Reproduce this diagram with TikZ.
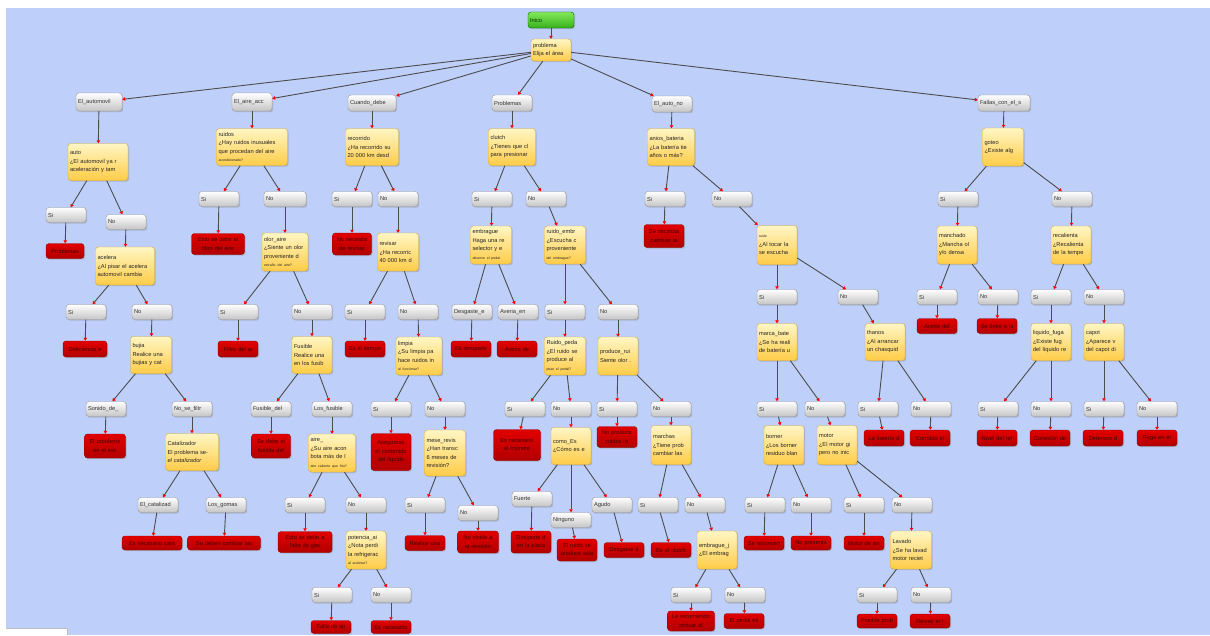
\documentclass[tikz,border=0pt]{standalone}
\usepackage{fontspec}
\setmainfont{Liberation Sans}
\usepackage{tikz}
\usetikzlibrary{arrows.meta, shadows}
\hyphenpenalty=10000
\exhyphenpenalty=10000
\definecolor{mapBg}{RGB}{190,208,250}
\definecolor{optBot}{RGB}{196,196,196}
\definecolor{optLine}{RGB}{150,150,150}
\definecolor{askTop}{RGB}{255,246,196}
\definecolor{askBot}{RGB}{255,204,72}
\definecolor{askLine}{RGB}{214,168,60}
\definecolor{endTop}{RGB}{226,0,0}
\definecolor{endBot}{RGB}{178,0,0}
\definecolor{endLine}{RGB}{140,0,0}
\definecolor{endText}{RGB}{70,0,0}
\definecolor{goTop}{RGB}{130,232,90}
\definecolor{goBot}{RGB}{56,176,28}
\tikzstyle{baseNode} = [rectangle, rounded corners=3pt, inner xsep=2pt, inner ysep=1pt, align=left, font=\fontsize{5.7}{8.5}\selectfont, drop shadow={opacity=0.35, shadow xshift=1.2pt, shadow yshift=-1.2pt}]
\tikzstyle{optNode} = [baseNode, top color=white, bottom color=optBot, draw=optLine, text width=36pt, minimum height=15pt, text=black!80]
\tikzstyle{askNode} = [baseNode, top color=askTop, bottom color=askBot, draw=askLine, text width=36pt, minimum height=37pt, text=black!85]
\tikzstyle{endNode} = [baseNode, top color=endTop, bottom color=endBot, draw=endLine, text width=36pt, minimum height=15pt, align=center, text=endText]
\tikzstyle{startNode} = [baseNode, top color=goTop, bottom color=goBot, draw=green!40!black, text width=42pt, minimum height=16pt, text=green!20!black]
\tikzstyle{arrow} = [draw=black!70, line width=0.9pt, -{Triangle[red, length=3pt, width=3.5pt]}]
\newcommand{\fine}[1]{{\fontsize{3.5}{4}\selectfont #1}}

\begin{document}
\begin{tikzpicture}[x=1pt, y=-1pt]
\useasboundingbox (0,0) rectangle (1210,635);
\fill [white] (0,0) rectangle (1210,635);
\fill [mapBg] (6,8) rectangle (1210,635);
\fill [white] (0,628) rectangle (67,635);
\draw [black!25] (6,628) -- (67,628) -- (67,635);

% raiz
\node (s) [startNode] at (551,20) {Inico};
\node (p) [askNode, minimum height=22pt] at (551,50) {problema\\Elija el área};

% primer nivel
\node (a) [optNode, text width=42pt, minimum height=18pt] at (99,102) {El\_automovil};
\node (b) [optNode, minimum height=18pt] at (252,102) {El\_aire\_acc};
\node (c) [optNode, text width=44pt, minimum height=16pt] at (372,103) {Cuando\_debe};
\node (d) [optNode, minimum height=16pt] at (512,103) {Problemas};
\node (e) [optNode, minimum height=16pt] at (672,104) {El\_auto\_no};
\node (f) [optNode, text width=48pt, minimum height=16pt] at (1004,103) {Fallas\_con\_el\_s};

% El_automovil
\node (a1) [askNode, text width=56pt] at (98,162) {auto\\¿El automovil ya r\\aceleración y tam};
\node (a1s) [optNode] at (66,215) {Si};
\node (a1n) [optNode] at (126,222) {No};
\node (a1sr) [endNode, text width=34pt] at (65,251) {Problemas};
\node (a2) [askNode, text width=55pt, minimum height=38pt] at (125,266) {acelera\\¿Al pisar el acelera\\automovil cambia};
\node (a2s) [optNode] at (86,312) {Si};
\node (a2n) [optNode] at (152,312) {No};
\node (a2sr) [endNode, text width=40pt, minimum height=16pt] at (85,349) {Deficiencia e};
\node (a3) [askNode, text width=37pt] at (151,355) {bujia\\Realice una\\bujias y cat};
\node (a3s) [optNode] at (106,409) {Sonido\_de\_};
\node (a3n) [optNode] at (192,409) {No\_se\_filtr};
\node (a3sr) [endNode, text width=37pt, minimum height=24pt] at (105,446) {El problema\\en el esc};
\node (a4) [askNode, text width=49pt] at (192,452) {Catalizador\\El problema se-\\\textit{el catalizador}};
\node (a4s) [optNode] at (158,505) {El\_catalizad};
\node (a4n) [optNode] at (226,505) {Los\_gomas};
\node (a4sr) [endNode, text width=56pt, minimum height=14pt] at (152,543) {Es necesario cam};
\node (a4nr) [endNode, text width=69pt, minimum height=14pt] at (224,543) {Se deben cambiar las};

% El_aire_acc
\node (b1) [askNode, text width=67pt] at (252,147) {ruidos\\¿Hay ruidos inusuales\\que procedan del aire\\\fine{acondicionado?}};
\node (b1s) [optNode] at (219,199) {Si};
\node (b1n) [optNode, text width=38pt] at (285,199) {No};
\node (b1sr) [endNode, text width=49pt, minimum height=21pt] at (218,244) {Esto se debe al\\filtro del aire};
\node (b2) [askNode, text width=42pt, minimum height=38pt] at (285,252) {olor\_aire\\¿Siente un olor\\proveniente d\\\fine{extraño del aire?}};
\node (b2s) [optNode] at (238,312) {Si};
\node (b2n) [optNode] at (312,312) {No};
\node (b2sr) [endNode, minimum height=16pt] at (238,349) {Filtro del ai};
\node (b3) [askNode] at (312,355) {Fusible\\Realice una\\en los fusib};
\node (b3s) [optNode] at (271,409) {Fusible\_del};
\node (b3n) [optNode] at (332,409) {Los\_fusible};
\node (b3sr) [endNode, text width=35pt, minimum height=24pt] at (271,446) {Se debe el\\fusible del};
\node (b4) [askNode, text width=43pt, minimum height=38pt] at (332,453) {aire\_\\¿Su aire acon\\bota más de l\\\fine{aire caliente que frío?}};
\node (b4s) [optNode] at (305,505) {Si};
\node (b4n) [optNode] at (366,505) {No};
\node (b4sr) [endNode, text width=50pt, minimum height=21pt] at (305,542) {Esto se debe a\\falta de gas};
\node (b5) [askNode, minimum height=38pt] at (366,550) {potencia\_ai\\¿Nota perdi\\la refrigerac\\\fine{al acelerar?}};
\node (b5s) [optNode] at (332,595) {Si};
\node (b5n) [optNode] at (391,595) {No};
\node (b5sr) [endNode, minimum height=13pt] at (331,627) {Falla de ap};
\node (b5nr) [endNode, minimum height=13pt] at (391,627) {Es necesario};

% Cuando_debe
\node (c1) [askNode, text width=49pt] at (372,147) {recorrido\\¿Ha recorrido su\\20 000 km desd};
\node (c1s) [optNode] at (352,199) {Si};
\node (c1n) [optNode] at (398,199) {No};
\node (c1sr) [endNode, text width=35pt, minimum height=22pt] at (352,244) {No necesita\\de revisar};
\node (c2) [askNode, text width=37pt, minimum height=38pt] at (398,252) {revisar\\¿Ha recorric\\40 000 km d};
\node (c2s) [optNode] at (365,312) {Si};
\node (c2n) [optNode] at (418,312) {No};
\node (c2sr) [endNode, minimum height=16pt] at (365,349) {Es el tiempo};
\node (c3) [askNode, text width=42pt, minimum height=38pt] at (419,356) {limpia\\¿Su limpia pa\\hace ruidos in\\\fine{al funcionar?}};
\node (c3s) [optNode] at (391,409) {Si};
\node (c3n) [optNode] at (445,409) {No};
\node (c3sr) [endNode, minimum height=37pt] at (391,452) {Asegurese\\el contenido\\del líquido};
\node (c4) [askNode, text width=37pt, minimum height=46pt] at (445,453) {mese\_revis\\¿Han transc\\6 meses de\\revisión?};
\node (c4s) [optNode] at (425,505) {Si};
\node (c4n) [optNode] at (478,513) {No};
\node (c4sr) [endNode] at (425,543) {Realice una};
\node (c4nr) [endNode, text width=37pt, minimum height=22pt] at (478,542) {No olvide a\\la revisión};

% Problemas
\node (d1) [askNode, text width=43pt] at (512,147) {clutch\\¿Tienes que cl\\para presionar};
\node (d1s) [optNode] at (492,199) {Si};
\node (d1n) [optNode] at (546,199) {No};
\node (d2) [askNode, text width=37pt, minimum height=38pt] at (491,245) {embrague\\Haga una re\\selector y e\\\fine{observe el pedal}};
\node (d2s) [optNode] at (472,312) {Desgaste\_e};
\node (d2n) [optNode] at (518,312) {Averia\_en};
\node (d2sr) [endNode, minimum height=16pt] at (471,349) {Es desgaste};
\node (d2nr) [endNode, minimum height=16pt] at (517,349) {Averia de};
\node (d3) [askNode, text width=37pt, minimum height=38pt] at (565,245) {ruido\_embr\\¿Escucha c\\proveniente\\\fine{del embrague?}};
\node (d3s) [optNode] at (565,312) {Si};
\node (d3n) [optNode] at (618,312) {No};
\node (d4) [askNode, text width=37pt, minimum height=38pt] at (565,356) {Ruido\_peda\\¿El ruido se\\produce al\\\fine{pisar el pedal?}};
\node (d4s) [optNode] at (525,409) {Si};
\node (d4n) [optNode] at (571,409) {No};
\node (d4sr) [endNode, text width=43pt, minimum height=31pt] at (517,445) {Es necesario\\el cojinete};
\node (d5) [askNode] at (571,446) {como\_Es\\¿Cómo es e};
\node (d5a) [optNode] at (532,499) {Fuerte};
\node (d5b) [optNode] at (571,520) {Ninguno};
\node (d5c) [optNode] at (612,505) {Agudo};
\node (d5ar) [endNode, minimum height=22pt] at (531,542) {Desgaste d\\en la placa};
\node (d5br) [endNode, minimum height=22pt] at (577,550) {El ruido se\\produce sólo};
\node (d5cr) [endNode] at (624,550) {Desgaste d};
\node (d6) [askNode, minimum height=38pt] at (618,356) {produce\_rui\\Siente olor .};
\node (d6s) [optNode] at (617,409) {Si};
\node (d6n) [optNode] at (671,409) {No};
\node (d6sr) [endNode, minimum height=21pt] at (617,437) {No produce\\ruidos in};
\node (d7) [askNode, minimum height=39pt] at (671,445) {marchas\\¿Tiene prob\\cambiar las};
\node (d7s) [optNode] at (658,505) {Si};
\node (d7n) [optNode] at (705,505) {No};
\node (d7sr) [endNode] at (671,550) {Es el clutch};
\node (d8) [askNode, minimum height=38pt] at (717,550) {embrague\_j\\¿El embrag};
\node (d8s) [optNode] at (691,595) {Si};
\node (d8n) [optNode] at (745,595) {No};
\node (d8sr) [endNode, text width=43pt, minimum height=20pt] at (691,621) {Le recomiendo\\revisar el};
\node (d8nr) [endNode] at (744,621) {El pedal es};

% El_auto_no
\node (e1) [askNode, text width=43pt] at (671,147) {anios\_bateria\\¿La batería tie\\años o más?};
\node (e1s) [optNode] at (665,199) {Si};
\node (e1n) [optNode] at (732,199) {No};
\node (e1sr) [endNode, minimum height=23pt] at (664,236) {Se necesita\\cambiar la};
\node (e2) [askNode, minimum height=39pt] at (777,245) {\fine{ruido}\\¿Al tocar la\\se escucha};
\node (e2s) [optNode] at (777,297) {Si};
\node (e2n) [optNode] at (858,297) {No};
\node (e3) [askNode] at (777,342) {marca\_bate\\¿Se ha reali\\de batería u};
\node (e3s) [optNode] at (777,409) {Si};
\node (e3n) [optNode] at (825,409) {No};
\node (e4) [askNode, minimum height=39pt] at (784,445) {borner\\¿Los borner\\residuo blan};
\node (e4s) [optNode] at (765,505) {Si};
\node (e4n) [optNode] at (811,505) {No};
\node (e4sr) [endNode, minimum height=14pt] at (764,543) {Se recomien};
\node (e4nr) [endNode, minimum height=14pt] at (811,543) {No presenta};
\node (e5) [askNode, minimum height=39pt] at (837,445) {motor\\¿El motor gi\\pero no inic};
\node (e5s) [optNode] at (864,505) {Si};
\node (e5n) [optNode] at (912,505) {No};
\node (e5sr) [endNode, minimum height=14pt] at (864,543) {Motor de arr};
\node (e6) [askNode, text width=37pt, minimum height=38pt] at (911,550) {Lavado\\¿Se ha lavad\\motor reciet};
\node (e6s) [optNode] at (877,595) {Si};
\node (e6n) [optNode] at (931,595) {No};
\node (e6sr) [endNode, minimum height=14pt] at (877,621) {Posible prob};
\node (e6nr) [endNode, minimum height=14pt] at (930,621) {Revise el r};
\node (e7) [askNode] at (885,342) {thanos\\¿Al arrancar\\un chasquid};
\node (e7s) [optNode] at (878,409) {Si};
\node (e7n) [optNode] at (931,409) {No};
\node (e7sr) [endNode, minimum height=16pt] at (884,438) {La batería d};
\node (e7nr) [endNode, minimum height=16pt] at (930,438) {Corroido el};

% Fallas_con_el_s
\node (f1) [askNode, text width=37pt, minimum height=38pt] at (1003,147) {goteo\\¿Existe alg};
\node (f1s) [optNode] at (958,199) {Si};
\node (f1n) [optNode] at (1072,199) {No};
\node (f2) [askNode, minimum height=38pt] at (957,245) {manchado\\¿Mancha ol\\y/o densa};
\node (f2s) [optNode] at (937,297) {Si};
\node (f2n) [optNode] at (998,297) {No};
\node (f2sr) [endNode] at (937,326) {Aceite del};
\node (f2nr) [endNode] at (997,326) {Se debe a la};
\node (f3) [askNode, minimum height=38pt] at (1071,245) {recalienta\\¿Recalienta\\de la tempe};
\node (f3s) [optNode] at (1051,297) {Si};
\node (f3n) [optNode] at (1104,297) {No};
\node (f4) [askNode] at (1051,342) {liquido\_fuga\\¿Existe fug\\del líquido re};
\node (f4s) [optNode] at (998,409) {Si};
\node (f4n) [optNode] at (1051,409) {No};
\node (f4sr) [endNode, minimum height=16pt] at (997,438) {Nivel del ref};
\node (f4nr) [endNode, minimum height=16pt] at (1050,438) {Conexión de};
\node (f5) [askNode] at (1104,342) {capot\\¿Aparece v\\del capot di};
\node (f5s) [optNode] at (1104,409) {Si};
\node (f5n) [optNode] at (1157,409) {No};
\node (f5sr) [endNode, minimum height=16pt] at (1103,438) {Deterioro d};
\node (f5nr) [endNode, minimum height=16pt] at (1157,438) {Fuga en el};

% conexiones
\draw [arrow] (s) -- (p);
\draw [arrow] (p) -- (a);
\draw [arrow] (p) -- (b);
\draw [arrow] (p) -- (c);
\draw [arrow] (p) -- (d);
\draw [arrow] (p) -- (e);
\draw [arrow] (p) -- (f);

\draw [arrow] (a) -- (a1);
\draw [arrow] (a1) -- (a1s);
\draw [arrow] (a1) -- (a1n);
\draw [arrow] (a1s) -- (a1sr);
\draw [arrow] (a1n) -- (a2);
\draw [arrow] (a2) -- (a2s);
\draw [arrow] (a2) -- (a2n);
\draw [arrow] (a2s) -- (a2sr);
\draw [arrow] (a2n) -- (a3);
\draw [arrow] (a3) -- (a3s);
\draw [arrow] (a3) -- (a3n);
\draw [arrow] (a3s) -- (a3sr);
\draw [arrow] (a3n) -- (a4);
\draw [arrow] (a4) -- (a4s);
\draw [arrow] (a4) -- (a4n);
\draw [arrow] (a4s) -- (a4sr);
\draw [arrow] (a4n) -- (a4nr);

\draw [arrow] (b) -- (b1);
\draw [arrow] (b1) -- (b1s);
\draw [arrow] (b1) -- (b1n);
\draw [arrow] (b1s) -- (b1sr);
\draw [arrow] (b1n) -- (b2);
\draw [arrow] (b2) -- (b2s);
\draw [arrow] (b2) -- (b2n);
\draw [arrow] (b2s) -- (b2sr);
\draw [arrow] (b2n) -- (b3);
\draw [arrow] (b3) -- (b3s);
\draw [arrow] (b3) -- (b3n);
\draw [arrow] (b3s) -- (b3sr);
\draw [arrow] (b3n) -- (b4);
\draw [arrow] (b4) -- (b4s);
\draw [arrow] (b4) -- (b4n);
\draw [arrow] (b4s) -- (b4sr);
\draw [arrow] (b4n) -- (b5);
\draw [arrow] (b5) -- (b5s);
\draw [arrow] (b5) -- (b5n);
\draw [arrow] (b5s) -- (b5sr);
\draw [arrow] (b5n) -- (b5nr);

\draw [arrow] (c) -- (c1);
\draw [arrow] (c1) -- (c1s);
\draw [arrow] (c1) -- (c1n);
\draw [arrow] (c1s) -- (c1sr);
\draw [arrow] (c1n) -- (c2);
\draw [arrow] (c2) -- (c2s);
\draw [arrow] (c2) -- (c2n);
\draw [arrow] (c2s) -- (c2sr);
\draw [arrow] (c2n) -- (c3);
\draw [arrow] (c3) -- (c3s);
\draw [arrow] (c3) -- (c3n);
\draw [arrow] (c3s) -- (c3sr);
\draw [arrow] (c3n) -- (c4);
\draw [arrow] (c4) -- (c4s);
\draw [arrow] (c4) -- (c4n);
\draw [arrow] (c4s) -- (c4sr);
\draw [arrow] (c4n) -- (c4nr);

\draw [arrow] (d) -- (d1);
\draw [arrow] (d1) -- (d1s);
\draw [arrow] (d1) -- (d1n);
\draw [arrow] (d1s) -- (d2);
\draw [arrow] (d2) -- (d2s);
\draw [arrow] (d2) -- (d2n);
\draw [arrow] (d2s) -- (d2sr);
\draw [arrow] (d2n) -- (d2nr);
\draw [arrow] (d1n) -- (d3);
\draw [arrow] (d3) -- (d3s);
\draw [arrow] (d3) -- (d3n);
\draw [arrow] (d3s) -- (d4);
\draw [arrow] (d4) -- (d4s);
\draw [arrow] (d4) -- (d4n);
\draw [arrow] (d4s) -- (d4sr);
\draw [arrow] (d4n) -- (d5);
\draw [arrow] (d5) -- (d5a);
\draw [arrow] (d5) -- (d5b);
\draw [arrow] (d5) -- (d5c);
\draw [arrow] (d5a) -- (d5ar);
\draw [arrow] (d5b) -- (d5br);
\draw [arrow] (d5c) -- (d5cr);
\draw [arrow] (d3n) -- (d6);
\draw [arrow] (d6) -- (d6s);
\draw [arrow] (d6) -- (d6n);
\draw [arrow] (d6s) -- (d6sr);
\draw [arrow] (d6n) -- (d7);
\draw [arrow] (d7) -- (d7s);
\draw [arrow] (d7) -- (d7n);
\draw [arrow] (d7s) -- (d7sr);
\draw [arrow] (d7n) -- (d8);
\draw [arrow] (d8) -- (d8s);
\draw [arrow] (d8) -- (d8n);
\draw [arrow] (d8s) -- (d8sr);
\draw [arrow] (d8n) -- (d8nr);

\draw [arrow] (e) -- (e1);
\draw [arrow] (e1) -- (e1s);
\draw [arrow] (e1) -- (e1n);
\draw [arrow] (e1s) -- (e1sr);
\draw [arrow] (e1n) -- (e2);
\draw [arrow] (e2) -- (e2s);
\draw [arrow] (e2) -- (e2n);
\draw [arrow] (e2s) -- (e3);
\draw [arrow] (e3) -- (e3s);
\draw [arrow] (e3) -- (e3n);
\draw [arrow] (e3s) -- (e4);
\draw [arrow] (e4) -- (e4s);
\draw [arrow] (e4) -- (e4n);
\draw [arrow] (e4s) -- (e4sr);
\draw [arrow] (e4n) -- (e4nr);
\draw [arrow] (e3n) -- (e5);
\draw [arrow] (e5) -- (e5s);
\draw [arrow] (e5) -- (e5n);
\draw [arrow] (e5s) -- (e5sr);
\draw [arrow] (e5n) -- (e6);
\draw [arrow] (e6) -- (e6s);
\draw [arrow] (e6) -- (e6n);
\draw [arrow] (e6s) -- (e6sr);
\draw [arrow] (e6n) -- (e6nr);
\draw [arrow] (e2n) -- (e7);
\draw [arrow] (e7) -- (e7s);
\draw [arrow] (e7) -- (e7n);
\draw [arrow] (e7s) -- (e7sr);
\draw [arrow] (e7n) -- (e7nr);

\draw [arrow] (f) -- (f1);
\draw [arrow] (f1) -- (f1s);
\draw [arrow] (f1) -- (f1n);
\draw [arrow] (f1s) -- (f2);
\draw [arrow] (f2) -- (f2s);
\draw [arrow] (f2) -- (f2n);
\draw [arrow] (f2s) -- (f2sr);
\draw [arrow] (f2n) -- (f2nr);
\draw [arrow] (f1n) -- (f3);
\draw [arrow] (f3) -- (f3s);
\draw [arrow] (f3) -- (f3n);
\draw [arrow] (f3s) -- (f4);
\draw [arrow] (f4) -- (f4s);
\draw [arrow] (f4) -- (f4n);
\draw [arrow] (f4s) -- (f4sr);
\draw [arrow] (f4n) -- (f4nr);
\draw [arrow] (f3n) -- (f5);
\draw [arrow] (f5) -- (f5s);
\draw [arrow] (f5) -- (f5n);
\draw [arrow] (f5s) -- (f5sr);
\draw [arrow] (f5n) -- (f5nr);
\end{tikzpicture}
\end{document}
